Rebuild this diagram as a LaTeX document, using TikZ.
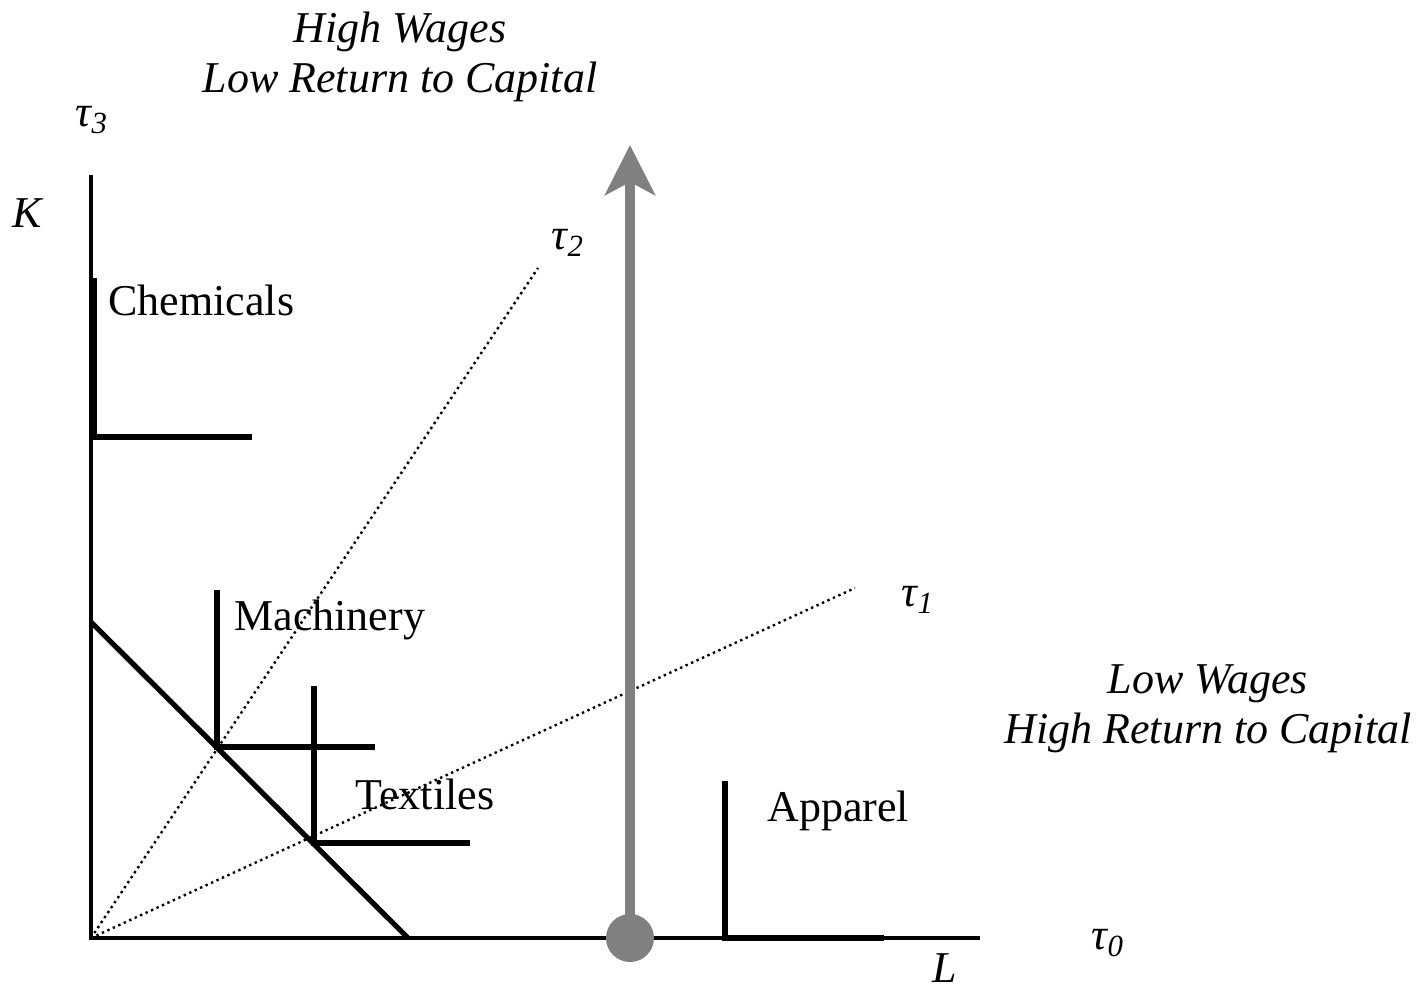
\documentclass[tikz,border=0pt]{standalone}
\usepackage{fontspec}
\setmainfont{Liberation Serif}
\usepackage{tikz}
\usetikzlibrary{arrows.meta,positioning,calc}
\definecolor{cShift}{RGB}{128,128,128}

\begin{document}
\begin{tikzpicture}[x=0.5pt,y=-0.5pt,>=Stealth,
  lab/.style={font=\fontsize{22}{25}\selectfont,inner sep=0pt},
  tlab/.style={lab,font=\fontsize{22}{25}\selectfont\itshape,align=center},
  axis/.style={line width=2pt},
  iso/.style={line width=3pt},
  ray/.style={line width=1.2pt,dash pattern=on 1.2pt off 1.8pt}]
  \useasboundingbox (0,0) rectangle (1424,991);
  % axes
  \coordinate (O) at (91,938);
  \coordinate (Ktop) at (91,175);
  \coordinate (Lend) at (980,938);
  \draw[axis] (Ktop) -- (O) -- (Lend);
  \node[tlab] (K) at (27,213) {K};
  \node[tlab] (L) at (945,968) {L};
  % rays
  \coordinate (r1) at (855,588);
  \coordinate (r2) at (538,268);
  \draw[ray] (O) -- (r1);
  \draw[ray] (O) -- (r2);
  \node[tlab] (t0) at (1108,943) {τ\textsubscript{0}};
  \node[tlab] (t1) at (918,600) {τ\textsubscript{1}};
  \node[tlab] (t2) at (568,243) {τ\textsubscript{2}};
  \node[tlab] (t3) at (92,120) {τ\textsubscript{3}};
  % isocost
  \coordinate (c1) at (91,622);
  \coordinate (c2) at (408,938);
  \draw[line width=2.6pt] (c1) -- (c2);
  % isoquants
  \coordinate (chem) at (94,437);
  \draw[iso] ($(chem)+(0,-159)$) -- (chem) -- ++(158,0);
  \coordinate (mach) at (217,747);
  \draw[iso] ($(mach)+(0,-157)$) -- (mach) -- ++(158,0);
  \coordinate (text) at (314,843);
  \draw[iso] ($(text)+(0,-157)$) -- (text) -- ++(156,0);
  \coordinate (app) at (725,938);
  \draw[iso] ($(app)+(0,-157)$) -- (app) -- ++(159,0);
  \node[lab,anchor=west] (chemlab) at (108,300) {Chemicals};
  \node[lab,anchor=west] (machlab) at (234,620) {Machinery};
  \node[lab,anchor=west] (textlab) at (355,794) {Textiles};
  \node[lab,anchor=west] (applab) at (767,811) {Apparel};
  % shift
  \node[circle,fill=cShift,minimum size=24pt,inner sep=0pt] (dot) at (630,938) {};
  \coordinate (top) at (630,145);
  \draw[->,line width=5pt,cShift,arrows={-Stealth[length=25pt,width=25pt,inset=6.5pt]}] (dot.center) -- (top);
  \node[tlab] (high) at (400,57) {High Wages\\Low Return to Capital};
  \node[tlab] (low) at (1208,709) {Low Wages\\High Return to Capital};
\end{tikzpicture}
\end{document}
